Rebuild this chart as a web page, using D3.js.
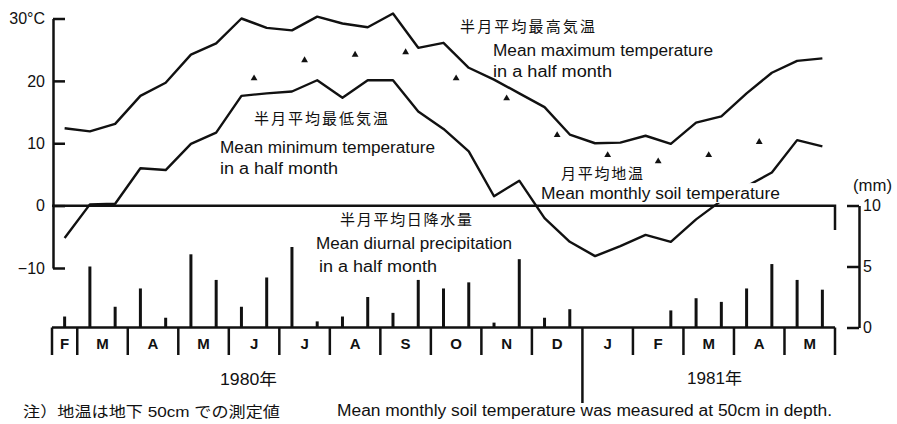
<!DOCTYPE html>
<html>
<head>
<meta charset="utf-8">
<script src="https://cdn.jsdelivr.net/npm/d3@7"></script>
<style>
  html, body { margin: 0; padding: 0; background: #fff; }
  svg { display: block; }
  text { fill: #111; }
</style>
</head>
<body>
<svg id="chart" width="897" height="424"></svg>
<script>
// Month row (Feb 1980 second half through May 1981), in half-month units
const months = ["F", "M", "A", "M", "J", "J", "A", "S", "O", "N", "D", "J", "F", "M", "A", "M"];
const monthHalves = [1, 2, 2, 2, 2, 2, 2, 2, 2, 2, 2, 2, 2, 2, 2, 2];
const yearBreakMonth = 11; // January 1981

// Half-month mean maximum temperature (°C)
const tMax = [12.4, 11.9, 13.1, 17.6, 19.7, 24.2, 26.0, 30.0, 28.5, 28.1, 30.3, 29.2, 28.6, 30.8, 25.3, 26.1,
              22.1, 20.2, 18.0, 15.8, 11.4, 10.0, 10.1, 11.2, 9.9, 13.3, 14.3, 18.0, 21.3, 23.2, 23.6];
// Half-month mean minimum temperature (°C)
const tMin = [-5.2, 0.2, 0.3, 6.0, 5.7, 9.9, 11.7, 17.6, 18.0, 18.3, 20.1, 17.3, 20.1, 20.1, 15.1, 12.3,
              8.7, 1.5, 4.0, -2.0, -5.8, -8.1, -6.5, -4.7, -5.8, -2.2, 0.8, 3.1, 5.3, 10.5, 9.5];
// Half-month mean diurnal precipitation (mm)
const precip = [0.9, 5.0, 1.7, 3.2, 0.8, 6.0, 3.9, 1.7, 4.1, 6.6, 0.5, 0.9, 2.5, 1.2, 3.9, 3.2,
                3.7, 0.4, 5.6, 0.8, 1.5, 0, 0, 0, 1.4, 2.4, 2.1, 3.2, 5.2, 3.9, 3.1];
// Monthly mean soil temperature at 50 cm (°C), June 1980 – April 1981
const soilMonthIndex = [4, 5, 6, 7, 8, 9, 10, 11, 12, 13, 14];
const soilTemp = [20.4, 23.3, 24.2, 24.6, 20.4, 17.2, 11.3, 8.1, 7.1, 8.1, 10.2];

const tempTicks = [-10, 0, 10, 20, 30];
const precipTicks = [0, 5, 10];

const svg = d3.select("#chart");
const latin = "'Liberation Sans', Arial, 'Noto Sans CJK JP', sans-serif";
const cjk = "'Noto Sans CJK JP', 'Liberation Sans', sans-serif";
const ink = "#111";

// Scales
const nHalf = tMax.length;
const x = d3.scaleLinear().domain([-0.5, nHalf - 0.5]).range([52, 835]);
const yT = d3.scaleLinear().domain([-10, 30]).range([268, 18.5]);
const yP = d3.scaleLinear().domain([0, 10]).range([327.5, 205.5]);

// Month boundaries in half-month units
const bounds = [-0.5];
monthHalves.forEach(h => bounds.push(bounds[bounds.length - 1] + h));
const monthCentre = m => x((bounds[m] + bounds[m + 1]) / 2);

// Temperature axis (ticks pointing inward)
const axT = svg.append("g")
  .attr("transform", `translate(${x(-0.5) + 1},0)`)
  .call(d3.axisLeft(yT).tickValues(tempTicks).tickSizeInner(-12).tickSizeOuter(0).tickPadding(8)
    .tickFormat(d => d === 30 ? "30°C" : d < 0 ? "\u2212" + (-d) : String(d)));
axT.select(".domain").attr("stroke", ink).attr("stroke-width", 2.5);
axT.selectAll(".tick line").attr("stroke", ink).attr("stroke-width", 2.5);
axT.selectAll(".tick text").attr("font-family", latin).attr("font-size", 16).attr("fill", ink);

// Precipitation axis on the right
const axP = svg.append("g")
  .attr("transform", "translate(859,0)")
  .call(d3.axisRight(yP).tickValues(precipTicks).tickSizeInner(-12).tickSizeOuter(0).tickPadding(4));
axP.select(".domain").attr("stroke", ink).attr("stroke-width", 2.5);
axP.selectAll(".tick line").attr("stroke", ink).attr("stroke-width", 2.5);
axP.selectAll(".tick text").attr("font-family", latin).attr("font-size", 16).attr("fill", ink);

// Zero line with the short drop at its right end
svg.append("path")
  .attr("d", `M${x(-0.5)},${yT(0)}H${x(nHalf - 0.5)}V${yT(-3.9)}`)
  .attr("fill", "none").attr("stroke", ink).attr("stroke-width", 2.5);

// Precipitation baseline
svg.append("line")
  .attr("x1", x(-0.5)).attr("x2", x(nHalf - 0.5))
  .attr("y1", yP(0)).attr("y2", yP(0))
  .attr("stroke", ink).attr("stroke-width", 2.5);

// Precipitation bars, one per half month
svg.append("g").selectAll("line")
  .data(precip.map((v, i) => ({ i, v })).filter(d => d.v > 0))
  .join("line")
  .attr("x1", d => x(d.i)).attr("x2", d => x(d.i))
  .attr("y1", yP(0)).attr("y2", d => yP(d.v))
  .attr("stroke", ink).attr("stroke-width", 3);

// Month separators; the one at January 1981 runs down to mark the year change
svg.append("g").selectAll("line").data(bounds).join("line")
  .attr("x1", d => x(d)).attr("x2", d => x(d))
  .attr("y1", yP(0))
  .attr("y2", (d, i) => i === yearBreakMonth ? 403 : 355)
  .attr("stroke", ink).attr("stroke-width", 2.5);

// Month labels
svg.append("g").selectAll("text").data(months).join("text")
  .attr("x", (d, i) => monthCentre(i))
  .attr("y", 343)
  .attr("text-anchor", "middle").attr("dominant-baseline", "central")
  .attr("font-family", latin).attr("font-size", 15).attr("font-weight", "bold")
  .text(d => d);

// Temperature lines
const line = d3.line().x((d, i) => x(i)).y(d => yT(d));
[tMax, tMin].forEach(series => {
  svg.append("path").datum(series).attr("d", line)
    .attr("fill", "none").attr("stroke", ink).attr("stroke-width", 2.4).attr("stroke-linejoin", "round");
});

// Soil temperature markers at month centres
svg.append("g").selectAll("path").data(soilTemp).join("path")
  .attr("d", d3.symbol(d3.symbolTriangle).size(20))
  .attr("transform", (d, i) => `translate(${monthCentre(soilMonthIndex[i])},${yT(d)})`)
  .attr("fill", ink);

// Text label spanning [x0, x1], vertically centred on cy; optional white backing
function label(t, x0, x1, cy, size, family, backing) {
  const g = svg.append("g");
  if (backing) {
    g.append("rect").attr("x", x0 - 2).attr("y", cy - size * 0.62)
      .attr("width", x1 - x0 + 4).attr("height", size * 1.24).attr("fill", "#fff");
  }
  g.append("text")
    .attr("x", x0).attr("y", cy)
    .attr("dominant-baseline", "central")
    .attr("font-family", family).attr("font-size", size)
    .attr("textLength", x1 - x0).attr("lengthAdjust", family === cjk ? "spacing" : "spacingAndGlyphs")
    .text(t);
}

label("半月平均最高気温", 460, 595, 25, 15, cjk);
label("Mean maximum temperature", 493, 713, 50, 16, latin);
label("in a half month", 493, 612, 71, 16, latin);

label("半月平均最低気温", 254, 388, 117, 15, cjk);
label("Mean minimum temperature", 220, 435, 147, 16, latin);
label("in a half month", 220, 338, 168, 16, latin);

label("月平均地温", 561, 643, 172, 15, cjk);
label("Mean monthly soil temperature", 541, 780, 193, 16, latin, true);

label("半月平均日降水量", 340, 472, 218, 15, cjk);
label("Mean diurnal precipitation", 316, 512, 243, 16, latin);
label("in a half month", 319, 437, 266, 16, latin);

label("(mm)", 853, 892, 185, 16, latin);

label("1980年", 220, 277, 379, 16, latin);
label("1981年", 687, 742, 378, 16, latin);

label("注）地温は地下 50cm での測定値", 23, 280, 411, 15, latin);
label("Mean monthly soil temperature was measured at 50cm in depth.", 337, 832, 410, 16, latin);
</script>
</body>
</html>
